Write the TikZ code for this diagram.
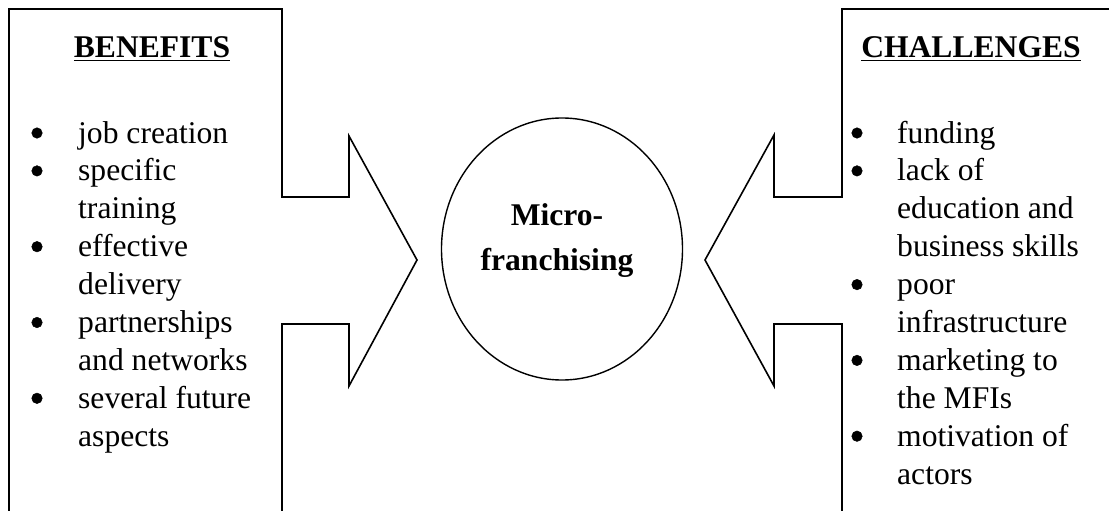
\documentclass[tikz,border=0pt]{standalone}
\usepackage{fontspec}
\setmainfont{Liberation Serif}
\usetikzlibrary{shapes.geometric}

\tikzset{
	frame/.style = {line width=1.6pt, line join=miter},
	hub/.style = {ellipse, draw, line width=1.4pt, minimum width=241pt, minimum height=262pt, inner sep=0pt},
	head/.style = {font=\fontsize{31.6}{37}\selectfont\bfseries, inner sep=0pt, anchor=base},
	item/.style = {font=\fontsize{31.6}{37}\selectfont, inner sep=0pt, anchor=base west},
	dot/.style = {circle, fill=black, draw=black, line width=0.5pt, inner sep=0pt, minimum size=10.5pt},
}

\begin{document}
\begin{tikzpicture}[x=1pt, y=-1pt]
	\useasboundingbox (0,0) rectangle (1109,511);
	\clip (0,0) rectangle (1109,511);

	% left box, arrow pointing right
	\draw[frame] (9,530) -- (9,9) -- (282,9) -- (282,197) -- (349,197) -- (349,136)
		-- (417,260) -- (349,386) -- (349,324) -- (282,324) -- (282,530);
	% right box, arrow pointing left
	\draw[frame] (842,530) -- (842,324) -- (774,324) -- (774,386) -- (705,260)
		-- (774,135) -- (774,197) -- (842,197) -- (842,9) -- (1130,9);

	\node[hub] (core) at (562,249) {};
	\node[head] (micro) at (557,225) {Micro-};
	\node[head] (franch) at (557,270) {franchising};

	\node[head] (benefits) at (152,58) {\underline{BENEFITS}};
	\node[head] (challenges) at (971,58) {\underline{CHALLENGES}};

	% left list
	\foreach \txt [count=\i from 0] in {job creation, specific, training, effective, delivery, partnerships, and networks, several future, aspects}
		\node[item] (ben\i) at (78, {143+37.9*\i}) {\txt};
	\foreach \i in {0,1,3,5,7}
		\node[dot] (bdot\i) at (37, {133+37.9*\i}) {};

	% right list
	\foreach \txt [count=\i from 0] in {funding, lack of, education and, business skills, poor, infrastructure, marketing to, the MFIs, motivation of, actors}
		\node[item] (cha\i) at (897, {143+37.9*\i}) {\txt};
	\foreach \i in {0,1,4,6,8}
		\node[dot] (cdot\i) at (857, {133+37.9*\i}) {};
\end{tikzpicture}
\end{document}
